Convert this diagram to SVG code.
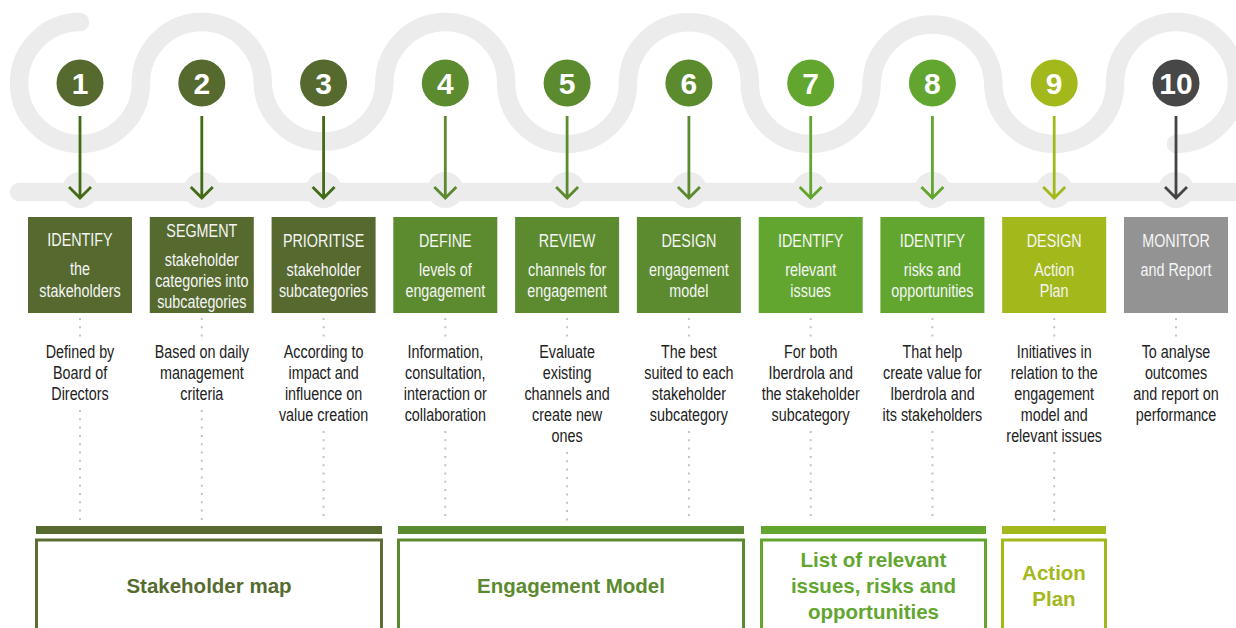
<svg xmlns="http://www.w3.org/2000/svg" width="1236" height="628" viewBox="0 0 1236 628">
<style>
.track{fill:none;stroke:#ececec;stroke-width:18.5;stroke-linecap:round}
.bump{fill:#ececec}
.num{font-family:"Liberation Sans",Arial,sans-serif;font-weight:bold;font-size:30px;fill:#fff;text-anchor:middle}
.bt{font-family:"Liberation Sans",Arial,sans-serif;font-size:17.5px;fill:#f5f5f5;text-anchor:middle}
.dt{font-family:"Liberation Sans",Arial,sans-serif;font-size:17.5px;fill:#222;text-anchor:middle}
.lab{font-family:"Liberation Sans",Arial,sans-serif;font-weight:bold;font-size:20.5px;text-anchor:middle}
.arr{fill:none;stroke-width:2.8}
.dot{fill:none;stroke:#c4c4c4;stroke-width:2;stroke-dasharray:2 6.3}
.cA{fill:#566a2f}.cB{fill:#5c8a2f}.cC{fill:#62a630}.cD{fill:#a3b81b}.cE{fill:#474747}.cF{fill:#939393}
.oA{fill:none;stroke:#5a6e33;stroke-width:3}.oB{fill:none;stroke:#5c8a2f;stroke-width:3}.oC{fill:none;stroke:#62a630;stroke-width:3}.oD{fill:none;stroke:#a3b81b;stroke-width:3}
</style>
<g id="background">
<path class="track" d="M80,22.1 A60.9,60.9 0 1 0 140.9,83 A60.9,60.9 0 0 1 262.7,83 A60.9,60.9 0 0 0 384.4,83 A60.9,60.9 0 0 1 506.2,83 A60.9,60.9 0 0 0 628,83 A60.9,60.9 0 0 1 749.8,83 A60.9,60.9 0 0 0 871.6,83 A60.9,60.9 0 0 1 993.3,83 A60.9,60.9 0 0 0 1115.1,83 A60.9,60.9 0 1 1 1176,143.9"/>
<line class="track" x1="19" y1="192" x2="1250" y2="192"/>
<circle class="bump" cx="80" cy="190" r="18"/>
<circle class="bump" cx="201.8" cy="190" r="18"/>
<circle class="bump" cx="323.6" cy="190" r="18"/>
<circle class="bump" cx="445.3" cy="190" r="18"/>
<circle class="bump" cx="567.1" cy="190" r="18"/>
<circle class="bump" cx="688.9" cy="190" r="18"/>
<circle class="bump" cx="810.7" cy="190" r="18"/>
<circle class="bump" cx="932.4" cy="190" r="18"/>
<circle class="bump" cx="1054.2" cy="190" r="18"/>
<circle class="bump" cx="1176" cy="190" r="18"/>
</g>
<g id="connectors">
<path class="arr" stroke="#416b15" d="M80,116 V198 M69,187 L80,198 L91,187"/>
<path class="arr" stroke="#416b15" d="M201.8,116 V198 M190.8,187 L201.8,198 L212.8,187"/>
<path class="arr" stroke="#416b15" d="M323.6,116 V198 M312.6,187 L323.6,198 L334.6,187"/>
<path class="arr" stroke="#5c8a2f" d="M445.3,116 V198 M434.3,187 L445.3,198 L456.3,187"/>
<path class="arr" stroke="#5c8a2f" d="M567.1,116 V198 M556.1,187 L567.1,198 L578.1,187"/>
<path class="arr" stroke="#5c8a2f" d="M688.9,116 V198 M677.9,187 L688.9,198 L699.9,187"/>
<path class="arr" stroke="#62a630" d="M810.7,116 V198 M799.7,187 L810.7,198 L821.7,187"/>
<path class="arr" stroke="#62a630" d="M932.4,116 V198 M921.4,187 L932.4,198 L943.4,187"/>
<path class="arr" stroke="#a3b81b" d="M1054.2,116 V198 M1043.2,187 L1054.2,198 L1065.2,187"/>
<path class="arr" stroke="#444444" d="M1176,116 V198 M1165,187 L1176,198 L1187,187"/>
<path class="dot" d="M80,318 V340 M201.8,318 V340 M323.6,318 V340 M445.3,318 V340 M567.1,318 V340 M688.9,318 V340 M810.7,318 V340 M932.4,318 V340 M1054.2,318 V340 M1176,318 V340"/>
<path class="dot" d="M80,410 V522 M201.8,410 V522 M323.6,431 V522 M445.3,431 V522 M567.1,452 V522 M688.9,431 V522 M810.7,431 V522 M932.4,431 V522 M1054.2,452 V522"/>
</g>
<g id="step1">
<circle class="cA" cx="80" cy="83" r="23.5"/><text class="num" x="80" y="94">1</text>
<rect class="cA" x="28" y="217" width="104" height="96"/>
<g transform="translate(80 0) scale(0.82 1)"><text class="bt" x="0" y="246">IDENTIFY</text><text class="bt" x="0" y="275">the</text><text class="bt" x="0" y="297">stakeholders</text>
<text class="dt" x="0" y="358">Defined by</text><text class="dt" x="0" y="379">Board of</text><text class="dt" x="0" y="400">Directors</text></g>
</g>
<g id="step2">
<circle class="cA" cx="201.8" cy="83" r="23.5"/><text class="num" x="201.8" y="94">2</text>
<rect class="cA" x="149.8" y="217" width="104" height="96"/>
<g transform="translate(201.8 0) scale(0.82 1)"><text class="bt" x="0" y="237">SEGMENT</text><text class="bt" x="0" y="266">stakeholder</text><text class="bt" x="0" y="287">categories into</text><text class="bt" x="0" y="308">subcategories</text>
<text class="dt" x="0" y="358">Based on daily</text><text class="dt" x="0" y="379">management</text><text class="dt" x="0" y="400">criteria</text></g>
</g>
<g id="step3">
<circle class="cA" cx="323.6" cy="83" r="23.5"/><text class="num" x="323.6" y="94">3</text>
<rect class="cA" x="271.6" y="217" width="104" height="96"/>
<g transform="translate(323.6 0) scale(0.82 1)"><text class="bt" x="0" y="247">PRIORITISE</text><text class="bt" x="0" y="276">stakeholder</text><text class="bt" x="0" y="297">subcategories</text>
<text class="dt" x="0" y="358">According to</text><text class="dt" x="0" y="379">impact and</text><text class="dt" x="0" y="400">influence on</text><text class="dt" x="0" y="421">value creation</text></g>
</g>
<g id="step4">
<circle class="cB" cx="445.3" cy="83" r="23.5"/><text class="num" x="445.3" y="94">4</text>
<rect class="cB" x="393.3" y="217" width="104" height="96"/>
<g transform="translate(445.3 0) scale(0.82 1)"><text class="bt" x="0" y="247">DEFINE</text><text class="bt" x="0" y="276">levels of</text><text class="bt" x="0" y="297">engagement</text>
<text class="dt" x="0" y="358">Information,</text><text class="dt" x="0" y="379">consultation,</text><text class="dt" x="0" y="400">interaction or</text><text class="dt" x="0" y="421">collaboration</text></g>
</g>
<g id="step5">
<circle class="cB" cx="567.1" cy="83" r="23.5"/><text class="num" x="567.1" y="94">5</text>
<rect class="cB" x="515.1" y="217" width="104" height="96"/>
<g transform="translate(567.1 0) scale(0.82 1)"><text class="bt" x="0" y="247">REVIEW</text><text class="bt" x="0" y="276">channels for</text><text class="bt" x="0" y="297">engagement</text>
<text class="dt" x="0" y="358">Evaluate</text><text class="dt" x="0" y="379">existing</text><text class="dt" x="0" y="400">channels and</text><text class="dt" x="0" y="421">create new</text><text class="dt" x="0" y="442">ones</text></g>
</g>
<g id="step6">
<circle class="cB" cx="688.9" cy="83" r="23.5"/><text class="num" x="688.9" y="94">6</text>
<rect class="cB" x="636.9" y="217" width="104" height="96"/>
<g transform="translate(688.9 0) scale(0.82 1)"><text class="bt" x="0" y="247">DESIGN</text><text class="bt" x="0" y="276">engagement</text><text class="bt" x="0" y="297">model</text>
<text class="dt" x="0" y="358">The best</text><text class="dt" x="0" y="379">suited to each</text><text class="dt" x="0" y="400">stakeholder</text><text class="dt" x="0" y="421">subcategory</text></g>
</g>
<g id="step7">
<circle class="cC" cx="810.7" cy="83" r="23.5"/><text class="num" x="810.7" y="94">7</text>
<rect class="cC" x="758.7" y="217" width="104" height="96"/>
<g transform="translate(810.7 0) scale(0.82 1)"><text class="bt" x="0" y="247">IDENTIFY</text><text class="bt" x="0" y="276">relevant</text><text class="bt" x="0" y="297">issues</text>
<text class="dt" x="0" y="358">For both</text><text class="dt" x="0" y="379">Iberdrola and</text><text class="dt" x="0" y="400">the stakeholder</text><text class="dt" x="0" y="421">subcategory</text></g>
</g>
<g id="step8">
<circle class="cC" cx="932.4" cy="83" r="23.5"/><text class="num" x="932.4" y="94">8</text>
<rect class="cC" x="880.4" y="217" width="104" height="96"/>
<g transform="translate(932.4 0) scale(0.82 1)"><text class="bt" x="0" y="247">IDENTIFY</text><text class="bt" x="0" y="276">risks and</text><text class="bt" x="0" y="297">opportunities</text>
<text class="dt" x="0" y="358">That help</text><text class="dt" x="0" y="379">create value for</text><text class="dt" x="0" y="400">Iberdrola and</text><text class="dt" x="0" y="421">its stakeholders</text></g>
</g>
<g id="step9">
<circle class="cD" cx="1054.2" cy="83" r="23.5"/><text class="num" x="1054.2" y="94">9</text>
<rect class="cD" x="1002.2" y="217" width="104" height="96"/>
<g transform="translate(1054.2 0) scale(0.82 1)"><text class="bt" x="0" y="247">DESIGN</text><text class="bt" x="0" y="276">Action</text><text class="bt" x="0" y="297">Plan</text>
<text class="dt" x="0" y="358">Initiatives in</text><text class="dt" x="0" y="379">relation to the</text><text class="dt" x="0" y="400">engagement</text><text class="dt" x="0" y="421">model and</text><text class="dt" x="0" y="442">relevant issues</text></g>
</g>
<g id="step10">
<circle class="cE" cx="1176" cy="83" r="23.5"/><text class="num" x="1176" y="94">10</text>
<rect class="cF" x="1124" y="217" width="104" height="96"/>
<g transform="translate(1176 0) scale(0.82 1)"><text class="bt" x="0" y="247">MONITOR</text><text class="bt" x="0" y="276">and Report</text>
<text class="dt" x="0" y="358">To analyse</text><text class="dt" x="0" y="379">outcomes</text><text class="dt" x="0" y="400">and report on</text><text class="dt" x="0" y="421">performance</text></g>
</g>
<g id="out-stakeholder-map">
<rect class="cA" x="36" y="526" width="346" height="8"/>
<rect class="oA" x="36.5" y="540" width="345" height="110"/>
<text class="lab" fill="#566b2f" x="209" y="593">Stakeholder map</text>
</g>
<g id="out-engagement-model">
<rect class="cB" x="398" y="526" width="346" height="8"/>
<rect class="oB" x="398.5" y="540" width="345" height="110"/>
<text class="lab" fill="#5c8a2f" x="571" y="593">Engagement Model</text>
</g>
<g id="out-list">
<rect class="cC" x="761" y="526" width="225" height="8"/>
<rect class="oC" x="761.5" y="540" width="224" height="110"/>
<text class="lab" fill="#62a630" x="873.5" y="567">List of relevant</text>
<text class="lab" fill="#62a630" x="873.5" y="593">issues, risks and</text>
<text class="lab" fill="#62a630" x="873.5" y="619">opportunities</text>
</g>
<g id="out-action-plan">
<rect class="cD" x="1002" y="526" width="104" height="8"/>
<rect class="oD" x="1002.5" y="540" width="103" height="110"/>
<text class="lab" fill="#a3b81b" x="1054" y="580">Action</text>
<text class="lab" fill="#a3b81b" x="1054" y="606">Plan</text>
</g>
</svg>
